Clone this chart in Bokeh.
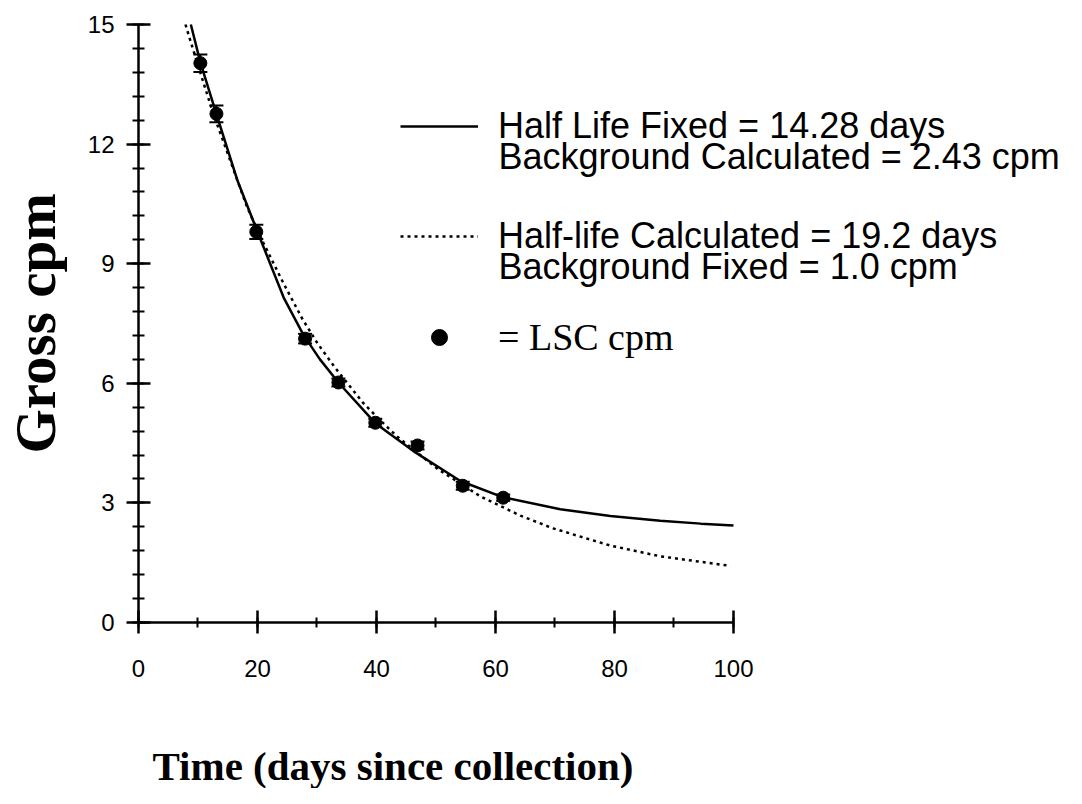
from bokeh.plotting import figure
from bokeh.models import (Range1d, ColumnDataSource, Whisker, TeeHead, Legend,
                          LegendItem, Label, SingleIntervalTicker)
from bokeh.embed import file_html
from bokeh.resources import INLINE

# ---- data ----
time_days = [10.4, 13.1, 19.8, 28.0, 33.6, 39.8, 46.9, 54.5, 61.3]
gross_cpm = [14.03, 12.76, 9.80, 7.12, 6.02, 5.01, 4.44, 3.43, 3.13]
cpm_err = [0.22, 0.21, 0.18, 0.12, 0.10, 0.10, 0.10, 0.10, 0.08]

fixed_fit_t = [8.8, 10.4, 13.1, 16.6, 20.0, 24.4, 27.7, 30.5, 33.6, 39.8, 46.2,
               54.1, 61.3, 70.9, 79.3, 87.7, 94.5, 100.0]
fixed_fit_cpm = [15.0, 14.05, 12.75, 11.1, 9.8, 8.15, 7.22, 6.6, 6.02, 5.0, 4.3,
                 3.55, 3.14, 2.84, 2.67, 2.55, 2.48, 2.43]

calc_fit_t = [7.9, 8.4, 10.9, 12.6, 18.3, 21.0, 24.4, 27.6, 30.1, 33.1, 37.8,
              40.3, 43.5, 50.3, 57.5, 64.2, 69.7, 79.3, 87.7, 99.5]
calc_fit_cpm = [15.0, 14.75, 13.55, 12.75, 10.4, 9.52, 8.5, 7.6, 7.0, 6.38, 5.5,
                5.12, 4.66, 3.85, 3.16, 2.68, 2.36, 1.93, 1.66, 1.42]

x_bounds = (0, 100)
y_bounds = (0, 15)

legend_lines = [
    "Half Life Fixed = 14.28 days",
    "Background Calculated = 2.43 cpm",
    "Half-life Calculated = 19.2 days",
    "Background Fixed = 1.0 cpm",
    "= LSC cpm",
]
x_title = "Time (days since collection)"
y_title = "Gross cpm"

SANS = "Liberation Sans"
SERIF = "Liberation Serif"

# The frame covers the whole canvas; the axes sit at x=0 / y=0 inside it.
p = figure(width=1066, height=788, output_backend="svg", toolbar_location=None,
           x_range=Range1d(-23.19, 155.97), y_range=Range1d(-4.164, 15.602),
           min_border=0)
p.outline_line_color = None
p.grid.visible = False
p.background_fill_color = "white"
p.border_fill_color = "white"

# axes
p.xaxis.ticker = SingleIntervalTicker(interval=20, num_minor_ticks=2)
p.yaxis.ticker = SingleIntervalTicker(interval=3, num_minor_ticks=5)
p.xaxis.fixed_location = 0
p.yaxis.fixed_location = 0
p.xaxis.bounds = x_bounds
p.yaxis.bounds = y_bounds
for ax in (p.xaxis, p.yaxis):
    ax.axis_line_width = 2.5
    ax.axis_line_color = "black"
    ax.major_tick_line_width = 2.5
    ax.major_tick_line_color = "black"
    ax.minor_tick_line_width = 2
    ax.minor_tick_line_color = "black"
    ax.major_label_text_font = SANS
    ax.major_label_text_font_size = "24px"
    ax.major_label_text_color = "black"

p.xaxis.major_tick_in = 12
p.xaxis.major_tick_out = 11
p.xaxis.minor_tick_in = 5
p.xaxis.minor_tick_out = 5
p.xaxis.major_label_standoff = 27

p.yaxis.major_tick_in = 12
p.yaxis.major_tick_out = 12
p.yaxis.minor_tick_in = 6
p.yaxis.minor_tick_out = 6
p.yaxis.major_label_standoff = 12
p.yaxis.axis_label = y_title
p.yaxis.axis_label_text_font = SERIF
p.yaxis.axis_label_text_font_style = "bold"
p.yaxis.axis_label_text_font_size = "57px"
p.yaxis.axis_label_text_color = "black"
p.yaxis.axis_label_standoff = 18

# fitted curves
solid = p.line(fixed_fit_t, fixed_fit_cpm, line_width=2.5, line_color="black")
dotted = p.line(calc_fit_t, calc_fit_cpm, line_width=2.5, line_color="black",
                line_dash="3 4")

# data with error bars
src = ColumnDataSource(dict(
    t=time_days, y=gross_cpm,
    upper=[v + e for v, e in zip(gross_cpm, cpm_err)],
    lower=[v - e for v, e in zip(gross_cpm, cpm_err)],
))
p.add_layout(Whisker(source=src, base="t", upper="upper", lower="lower",
                     dimension="height", line_width=2, line_color="black",
                     upper_head=TeeHead(size=14, line_width=2, line_color="black"),
                     lower_head=TeeHead(size=14, line_width=2, line_color="black")))
dots = p.scatter("t", "y", source=src, size=13, fill_color="black", line_color="black")


def make_legend(label, rend, loc, font, size):
    return Legend(items=[LegendItem(label=label, renderers=[rend])],
                  location=loc, glyph_width=78, glyph_height=40, label_height=40,
                  label_standoff=20, padding=0, margin=0, spacing=0,
                  border_line_color=None, background_fill_alpha=0,
                  label_text_font=font, label_text_font_size=size,
                  label_text_color="black")


p.add_layout(make_legend(legend_lines[0], solid, (400, 641), SANS, "36px"))
p.add_layout(make_legend(legend_lines[2], dotted, (400, 531), SANS, "36px"))
p.add_layout(make_legend(legend_lines[4], dots, (400, 429), SERIF, "38px"))

for txt, yy in ((legend_lines[1], 632), (legend_lines[3], 522)):
    p.add_layout(Label(x=498, y=yy, x_units="screen", y_units="screen", text=txt,
                       text_font=SANS, text_font_size="36px", text_color="black",
                       text_baseline="middle"))

p.add_layout(Label(x=152, y=0, x_units="screen", y_units="screen", text=x_title,
                   text_font=SERIF, text_font_style="bold", text_font_size="41px",
                   text_color="black", text_baseline="bottom"))

open("out.html", "w").write(file_html(p, INLINE))
